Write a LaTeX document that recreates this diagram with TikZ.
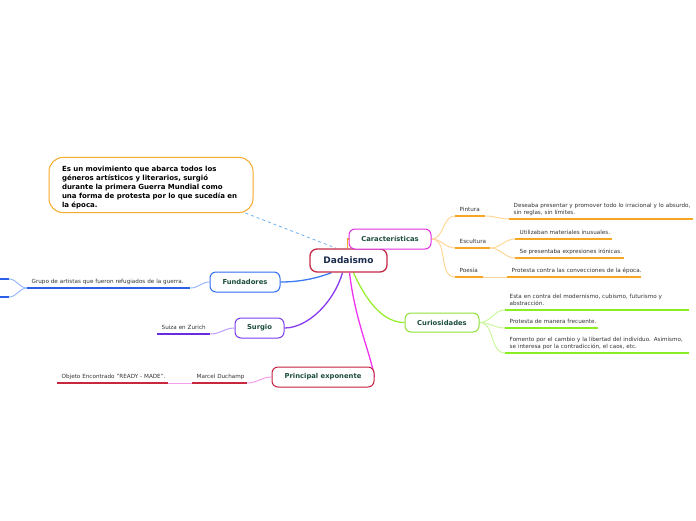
\documentclass[tikz,border=0pt]{standalone}
\usepackage{fontspec}
\setmainfont{DejaVu Sans}
\usetikzlibrary{calc,backgrounds}
\definecolor{dadared}{HTML}{C42A45}
\definecolor{dadanavy}{HTML}{1A2B4C}
\definecolor{topictext}{HTML}{1D4D3C}
\definecolor{leafgray}{HTML}{333333}
\definecolor{carmag}{HTML}{E02EE0}
\definecolor{curgreen}{HTML}{8EE03A}
\definecolor{fundblue}{HTML}{2F6DF0}
\definecolor{surgpurple}{HTML}{7A3CF0}
\definecolor{pered}{HTML}{C42040}
\definecolor{noteorange}{HTML}{F7A928}
\definecolor{dashblue}{HTML}{6AAEF0}
\definecolor{orUL}{HTML}{F5A623}
\definecolor{orLT}{HTML}{FFD699}
\definecolor{grUL}{HTML}{88EE22}
\definecolor{grLT}{HTML}{CCF7A0}
\definecolor{grMAIN}{HTML}{99EE33}
\definecolor{blUL}{HTML}{2B5FE8}
\definecolor{blLT}{HTML}{99B8FF}
\definecolor{blMAIN}{HTML}{3A7BEF}
\definecolor{puUL}{HTML}{6A2AE0}
\definecolor{puLT}{HTML}{BB9BFF}
\definecolor{puMAIN}{HTML}{8A3CF0}
\definecolor{reUL}{HTML}{C8283E}
\definecolor{reLT}{HTML}{F59EF0}
\definecolor{piMAIN}{HTML}{EE33EE}
\tikzset{
  topic/.style={draw, rounded corners=6pt, line width=1pt, fill=white, inner sep=0pt,
    font=\bfseries\fontsize{6.8}{8}\selectfont, text=topictext},
  leaf/.style={anchor=south west, text width=#1, inner xsep=4.5pt, inner ysep=2.5pt,
    align=left, font=\fontsize{5.65}{7.5}\selectfont, text=leafgray,
    execute at end node={\rule[-1.4pt]{0pt}{1pt}}},
  ul/.style={line width=1.6pt},
  lt/.style={line width=1pt},
  mainc/.style={line width=1.3pt}
}
\begin{document}
\begin{tikzpicture}[x=1pt,y=-1pt]
\useasboundingbox (0,0) rectangle (696,520);

% central and topic nodes
\node[topic, draw=dadared, text=dadanavy, font=\bfseries\fontsize{9}{10}\selectfont,
  minimum width=77pt, minimum height=23pt, line width=1.3pt, rounded corners=7pt] (dada) at (348.5,260.5) {Dadaismo};
\node[topic, draw=carmag, minimum width=82pt, minimum height=20pt] (car) at (390,239) {Características};
\node[topic, draw=curgreen, minimum width=74pt, minimum height=19pt] (cur) at (442,322.5) {Curiosidades};
\node[topic, draw=fundblue, minimum width=70pt, minimum height=20pt] (fund) at (245,282) {Fundadores};
\node[topic, draw=surgpurple, minimum width=49pt, minimum height=20pt] (surg) at (259.5,328) {Surgio};
\node[topic, draw=pered, minimum width=102pt, minimum height=20pt] (pe) at (323,377) {Principal exponente};

% note
\node[draw=noteorange, line width=1pt, rounded corners=14pt, fill=white, minimum width=204pt,
  minimum height=54pt, text width=178pt, inner xsep=13pt, align=left, text=black,
  font=\bfseries\fontsize{7}{9}\selectfont] (note) at (151,185)
  {\rule{0pt}{11pt}Es un movimiento que abarca todos los\\géneros artísticos y literarios, surgió\\durante la primera Guerra Mundial como\\\mbox{una forma de protesta por lo que sucedía en}\\la época.};

% leaves: Caracteristicas
\node[leaf=21pt] (pint) at (455,216) {\mbox{Pintura}};
\node[leaf=175pt] (pintT) at (509,219) {\mbox{Deseaba presentar y promover todo lo irracional y lo absurdo,}\\\mbox{sin reglas, sin límites.}};
\node[leaf=26pt] (esc) at (455,248) {\mbox{Escultura}};
\node[leaf=88pt] (util) at (515,239) {\mbox{Utilizaban materiales inusuales.}};
\node[leaf=100pt] (sepr) at (515,258) {\mbox{Se presentaba expresiones irónicas.}};
\node[leaf=19pt] (poe) at (455,277) {\mbox{Poesía}};
\node[leaf=125pt] (prot) at (507,277) {\mbox{Protesta contra las convecciones de la época.}};
% leaves: Curiosidades
\node[leaf=175pt] (cur1) at (505,310) {\mbox{Esta en contra del modernismo, cubismo, futurismo y}\\\mbox{abstracción.}};
\node[leaf=84pt] (cur2) at (505,328) {\mbox{Protesta de manera frecuente.}};
\node[leaf=175pt] (cur3) at (505,353) {\mbox{Fomento por el cambio y la libertad del individuo. Asimismo,}\\\mbox{se interesa por la contradicción, el caos, etc.}};
% leaves: Fundadores
\node[leaf=154pt] (grupo) at (27,288) {\mbox{Grupo de artistas que fueron refugiados de la guerra.}};
\coordinate (offA) at (9,279);
\coordinate (offAw) at (-2,279);
\coordinate (offB) at (9,297);
\coordinate (offBw) at (-2,297);
% leaves: Surgio
\node[leaf=44pt] (suiza) at (157,334) {\mbox{Suiza en Zurich}};
% leaves: Principal exponente
\node[leaf=46pt] (marcel) at (192,383) {\mbox{Marcel Duchamp}};
\node[leaf=102pt] (objeto) at (57,383) {\mbox{Objeto Encontrado "READY - MADE".}};

\begin{scope}[on background layer]
  % dashed link
  \draw[dashblue, line width=0.8pt, dash pattern=on 3pt off 3pt]
    ($(note.south east)+(-8,0)$) -- ($(dada.north)+(-12,0)$);
  % main connectors
  \draw[orUL, mainc] ($(dada.north)+(-1,0)$) |- (car.west);
  \draw[blMAIN, mainc] ($(dada.south)+(-17,0)$) .. controls (315,279) and (298,282) .. (fund.east);
  \draw[puMAIN, mainc] ($(dada.south)+(-6,0)$) .. controls (334,302) and (308,328) .. (surg.east);
  \draw[piMAIN, mainc] ($(dada.south)+(1,0)$) .. controls (355,320) and (370,352) .. (pe.east);
  \draw[grMAIN, mainc] ($(dada.south)+(5,0)$) .. controls (368,305) and (385,322.5) .. (cur.west);
  % Caracteristicas branches
  \draw[orLT, lt] (car.east) to[out=0,in=180] (pint.south west);
  \draw[orLT, lt] (car.east) to[out=0,in=180] (esc.south west);
  \draw[orLT, lt] (car.east) to[out=0,in=180] (poe.south west);
  \draw[orLT, lt] (pint.south east) to[out=0,in=180] (pintT.south west);
  \draw[orLT, lt] (esc.south east) to[out=0,in=180] (util.south west);
  \draw[orLT, lt] (esc.south east) to[out=0,in=180] (sepr.south west);
  \draw[orLT, lt] (poe.south east) -- (prot.south west);
  % Curiosidades branches
  \draw[grLT, lt] (cur.east) to[out=0,in=180] (cur1.south west);
  \draw[grLT, lt] (cur.east) to[out=0,in=180] (cur2.south west);
  \draw[grLT, lt] (cur.east) to[out=0,in=180] (cur3.south west);
  % Fundadores branches
  \draw[blLT, lt] (fund.west) to[out=180,in=0] (grupo.south east);
  \draw[blLT, lt] (grupo.south west) to[out=180,in=0] (offA);
  \draw[blLT, lt] (grupo.south west) to[out=180,in=0] (offB);
  % Surgio branch
  \draw[puLT, lt] (surg.west) to[out=180,in=0] (suiza.south east);
  % Principal exponente branches
  \draw[reLT, lt] (pe.west) to[out=180,in=0] (marcel.south east);
  \draw[reLT, lt] (marcel.south west) -- (objeto.south east);
\end{scope}

% underlines
\foreach \n/\c in {pint/orUL, pintT/orUL, esc/orUL, util/orUL, sepr/orUL, poe/orUL, prot/orUL,
  cur1/grUL, cur2/grUL, cur3/grUL, grupo/blUL, suiza/puUL, marcel/reUL, objeto/reUL}
  \draw[ul, draw=\c] (\n.south west) -- (\n.south east);
\draw[ul, draw=blUL] (offAw) -- (offA);
\draw[ul, draw=blUL] (offBw) -- (offB);
\end{tikzpicture}
\end{document}
